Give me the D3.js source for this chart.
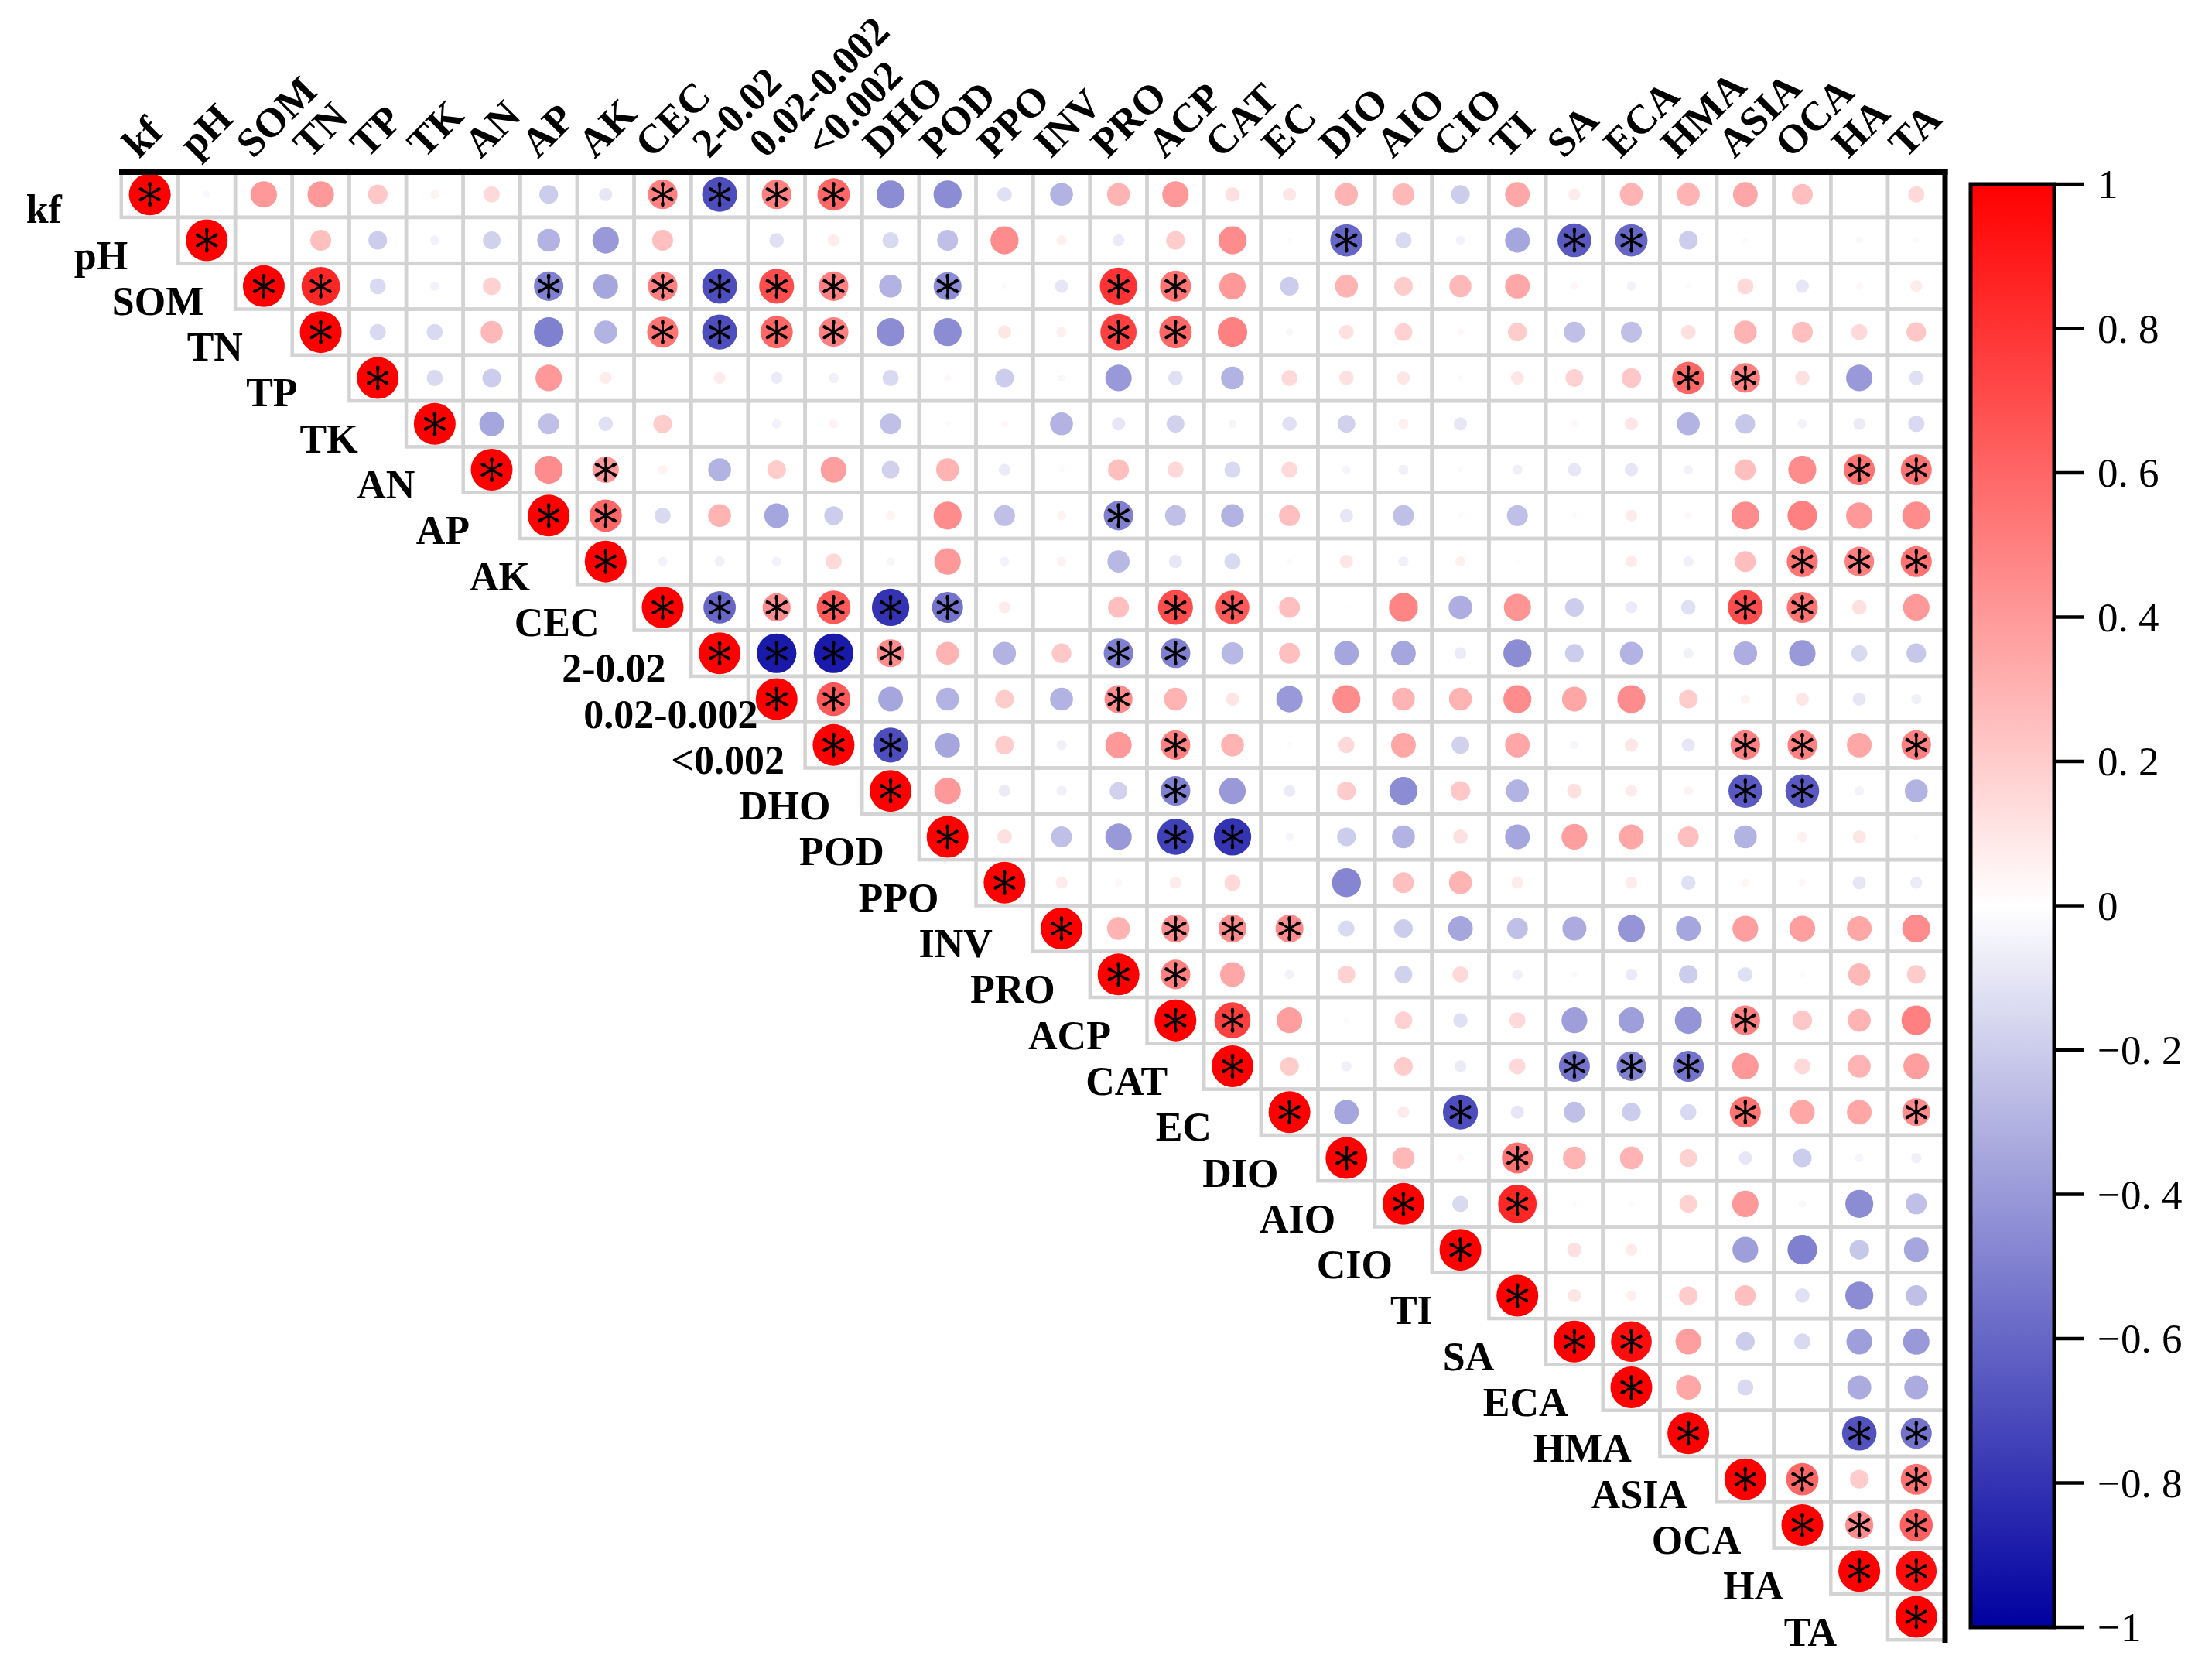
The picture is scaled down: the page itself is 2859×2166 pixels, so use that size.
<!DOCTYPE html>
<meta charset="utf-8">
<script src="https://d3js.org/d3.v7.min.js"></script>
<style>
  body { margin: 0; background: #fff; }
</style>
<div id="chart"></div>
<script>

// variable names (rows and columns)
const vars = ["kf","pH","SOM","TN","TP","TK","AN","AP","AK","CEC","2-0.02","0.02-0.002","<0.002",
  "DHO","POD","PPO","INV","PRO","ACP","CAT","EC","DIO","AIO","CIO","TI","SA","ECA","HMA",
  "ASIA","OCA","HA","TA"];

// upper triangle, each row starts at the diagonal
const upper = [
  [1,-0.03,0.4,0.4,0.22,0.05,0.15,-0.2,-0.1,0.5,-0.7,0.5,0.6,-0.45,-0.45,-0.12,-0.3,0.3,0.4,0.12,0.1,0.3,0.28,-0.2,0.35,0.08,0.3,0.3,0.35,0.25,0,0.15],
  [1,0,0.25,-0.2,-0.05,-0.18,-0.3,-0.4,0.25,0,-0.12,0.08,-0.15,-0.25,0.45,0.06,-0.08,0.2,0.45,0.02,-0.6,-0.15,-0.05,-0.35,-0.65,-0.6,-0.2,0.02,0,0.03,0.02],
  [1,0.85,-0.15,-0.05,0.18,-0.5,-0.35,0.5,-0.7,0.7,0.5,-0.3,-0.45,0.02,-0.1,0.8,0.55,0.4,-0.2,0.3,0.2,0.28,0.35,0.03,-0.05,0.02,0.15,-0.1,0.03,0.08],
  [1,-0.15,-0.15,0.28,-0.5,-0.3,0.55,-0.7,0.6,0.5,-0.45,-0.45,0.1,0.06,0.75,0.6,0.5,-0.03,0.12,0.18,0.03,0.2,-0.25,-0.25,0.12,0.3,0.25,0.15,0.22],
  [1,-0.15,-0.2,0.4,0.08,0,0.08,-0.08,-0.06,-0.15,0.03,-0.2,0.03,-0.4,-0.12,-0.3,0.15,0.12,0.1,0.02,0.1,0.18,0.22,0.6,0.5,0.12,-0.4,-0.12],
  [1,-0.35,-0.25,-0.12,0.2,0.01,-0.05,0.05,-0.25,0.02,0.03,-0.3,-0.1,-0.18,-0.04,-0.12,-0.18,0.06,-0.1,0,0.03,0.1,-0.3,-0.22,-0.05,-0.08,-0.15],
  [1,0.45,0.4,0.05,-0.3,0.2,0.38,-0.18,0.3,-0.08,0.02,0.25,0.15,-0.15,0.15,-0.04,-0.06,0.02,-0.06,-0.1,-0.1,-0.05,0.25,0.45,0.55,0.55],
  [1,0.6,-0.15,0.3,-0.35,-0.2,0.05,0.45,-0.25,0.05,-0.5,-0.25,-0.3,0.25,-0.1,-0.25,0.02,-0.25,0.02,0.08,0.03,0.45,0.5,0.4,0.45],
  [1,-0.05,-0.06,-0.05,0.15,-0.04,0.4,-0.05,0.05,-0.28,-0.1,-0.15,0.02,0.1,-0.06,0.06,0.01,0,0.08,-0.06,0.25,0.55,0.5,0.55],
  [1,-0.6,0.45,0.65,-0.8,-0.55,0.08,0,0.25,0.7,0.65,0.25,0.01,0.48,-0.32,0.42,-0.2,-0.08,-0.12,0.7,0.55,0.12,0.4],
  [1,-0.9,-0.9,0.45,0.3,-0.3,0.22,-0.5,-0.5,-0.28,0.25,-0.35,-0.35,-0.08,-0.45,-0.2,-0.3,-0.06,-0.32,-0.4,-0.15,-0.22],
  [1,0.65,-0.35,-0.3,0.2,-0.3,0.45,0.3,0.1,-0.4,0.45,0.3,0.3,0.45,0.35,0.45,0.2,0.05,0.1,-0.1,-0.06],
  [1,-0.7,-0.35,0.2,-0.06,0.4,0.5,0.3,0.02,0.15,0.35,-0.18,0.35,-0.04,0.1,-0.1,0.5,0.5,0.35,0.5],
  [1,0.4,-0.08,-0.06,-0.18,-0.5,-0.4,-0.08,0.2,-0.45,0.22,-0.3,0.12,0.08,0.05,-0.65,-0.65,-0.05,-0.3],
  [1,0.12,-0.25,-0.4,-0.75,-0.8,-0.04,-0.2,-0.3,0.12,-0.35,0.38,0.35,0.25,-0.3,0.06,0.1,0.02],
  [1,0.08,0.03,0.08,0.15,0,-0.48,0.25,0.3,0.08,0,0.08,-0.12,0.04,0.03,-0.1,-0.08],
  [1,0.3,0.45,0.45,0.45,-0.15,-0.2,-0.35,-0.25,-0.33,-0.42,-0.35,0.38,0.38,0.35,0.45],
  [1,0.5,0.35,-0.05,0.18,-0.18,0.15,-0.06,-0.02,-0.08,-0.2,-0.12,0.02,0.28,0.2],
  [1,0.75,0.38,0.02,0.18,-0.12,0.15,-0.38,-0.38,-0.42,0.5,0.22,0.3,0.5],
  [1,0.2,-0.06,0.2,-0.08,0.15,-0.55,-0.5,-0.55,0.4,0.15,0.3,0.38],
  [1,-0.35,0.08,-0.7,-0.1,-0.25,-0.2,-0.15,0.55,0.35,0.35,0.45],
  [1,0.28,0.03,0.55,0.3,0.3,0.18,-0.1,-0.2,-0.04,-0.06],
  [1,-0.15,0.85,0.02,0.02,0.18,0.4,-0.03,-0.45,-0.25],
  [1,0,0.12,0.08,0,-0.38,-0.5,-0.22,-0.35],
  [1,0.1,0.06,0.2,0.25,-0.12,-0.45,-0.25],
  [1,0.95,0.38,-0.2,-0.15,-0.38,-0.4],
  [1,0.35,-0.15,0,-0.33,-0.33],
  [1,0,0,-0.68,-0.55],
  [1,0.6,0.2,0.55],
  [1,0.45,0.62],
  [1,0.95],
  [1]
];

// significant pairs (marked with *), listed per row
const stars = [
  ["kf","CEC","2-0.02","0.02-0.002","<0.002"],
  ["pH","DIO","SA","ECA"],
  ["SOM","TN","AP","CEC","2-0.02","0.02-0.002","<0.002","POD","PRO","ACP"],
  ["TN","CEC","2-0.02","0.02-0.002","<0.002","PRO","ACP"],
  ["TP","HMA","ASIA"],
  ["TK"],
  ["AN","AK","HA","TA"],
  ["AP","AK","PRO"],
  ["AK","OCA","HA","TA"],
  ["CEC","2-0.02","0.02-0.002","<0.002","DHO","POD","ACP","CAT","ASIA","OCA"],
  ["2-0.02","0.02-0.002","<0.002","DHO","PRO","ACP"],
  ["0.02-0.002","<0.002","PRO"],
  ["<0.002","DHO","ACP","ASIA","OCA","TA"],
  ["DHO","ACP","ASIA","OCA"],
  ["POD","ACP","CAT"],
  ["PPO"],
  ["INV","ACP","CAT","EC"],
  ["PRO","ACP"],
  ["ACP","CAT","ASIA"],
  ["CAT","SA","ECA","HMA"],
  ["EC","CIO","ASIA","TA"],
  ["DIO","TI"],
  ["AIO","TI"],
  ["CIO"],
  ["TI"],
  ["SA","ECA"],
  ["ECA"],
  ["HMA","HA","TA"],
  ["ASIA","OCA","TA"],
  ["OCA","HA","TA"],
  ["HA","TA"],
  ["TA"]
];

const legendTicks = [1, 0.8, 0.6, 0.4, 0.2, 0, -0.2, -0.4, -0.6, -0.8, -1];

const W = 2859, H = 2166;
const svg = d3.select("#chart").append("svg")
  .attr("width", W).attr("height", H);

// grid scales
const x = d3.scaleBand().domain(vars).range([156.8, 2513.6]);
const y = d3.scaleBand().domain(vars).range([221.6, 2119.2]);
const color = d3.scaleLinear().domain([-1, 0, 1]).range(["#0000a0", "#ffffff", "#ff0000"]);
const radius = d3.scaleSqrt().domain([0, 1]).range([0, 27]);

// flatten to cells
const cells = [];
upper.forEach(function(row, i) {
  row.forEach(function(v, k) {
    const j = i + k;
    cells.push({row: vars[i], col: vars[j], value: v,
      star: stars[i].indexOf(vars[j]) >= 0});
  });
});

// cell frames
svg.append("g").selectAll("rect")
  .data(cells).enter().append("rect")
    .attr("x", d => x(d.col))
    .attr("y", d => y(d.row))
    .attr("width", x.bandwidth())
    .attr("height", y.bandwidth())
    .attr("fill", "none")
    .attr("stroke", "#d3d3d3")
    .attr("stroke-width", 4.5);

// circles
svg.append("g").selectAll("circle")
  .data(cells).enter().append("circle")
    .attr("cx", d => x(d.col) + x.bandwidth() / 2)
    .attr("cy", d => y(d.row) + y.bandwidth() / 2)
    .attr("r", d => radius(Math.abs(d.value)))
    .attr("fill", d => color(d.value));

// asterisks for significant cells
function starPath(L) {
  let p = "";
  [90, 30, 150].forEach(function(a) {
    const r = a * Math.PI / 180;
    const dx = L * Math.cos(r), dy = L * Math.sin(r);
    p += "M" + (-dx) + "," + (-dy) + "L" + dx + "," + dy;
  });
  return p;
}
const starG = svg.append("g").selectAll("g")
  .data(cells.filter(d => d.star)).enter().append("g")
    .attr("transform", d => "translate(" + (x(d.col) + x.bandwidth() / 2) + "," +
      (y(d.row) + y.bandwidth() / 2) + ")");
starG.append("path")
  .attr("d", starPath(15.5))
  .attr("stroke", "#000")
  .attr("stroke-width", 3)
  .attr("fill", "none");
[90, 270, 30, 210, 150, 330].forEach(function(a) {
  const r = a * Math.PI / 180;
  starG.append("ellipse")
    .attr("cx", 12.5 * Math.cos(r))
    .attr("cy", 12.5 * Math.sin(r))
    .attr("rx", 3.4).attr("ry", 2.3)
    .attr("transform", "rotate(" + a + "," + (12.5 * Math.cos(r)) + "," + (12.5 * Math.sin(r)) + ")")
    .attr("fill", "#000");
});

// frame: top and right black lines
svg.append("line")
  .attr("x1", 154).attr("x2", 2517.5)
  .attr("y1", 222.5).attr("y2", 222.5)
  .attr("stroke", "#000").attr("stroke-width", 7);
svg.append("line")
  .attr("x1", 2514).attr("x2", 2514)
  .attr("y1", 219).attr("y2", 2123)
  .attr("stroke", "#000").attr("stroke-width", 7);

const labelFont = "'Liberation Serif', 'Times New Roman', serif";

// row labels (left of the diagonal)
svg.append("g").selectAll("text")
  .data(vars).enter().append("text")
    .attr("x", d => x(d) - 100)
    .attr("y", d => y(d) + y.bandwidth() / 2 + 37)
    .attr("text-anchor", "middle")
    .style("font-family", labelFont)
    .style("font-weight", "bold")
    .style("font-size", "52px")
    .text(d => d);

// column labels (rotated)
svg.append("g").selectAll("text")
  .data(vars).enter().append("text")
    .attr("transform", d => "translate(" + (x(d) + x.bandwidth() / 2 - 14) + ",206) rotate(-45)")
    .attr("text-anchor", "start")
    .style("font-family", labelFont)
    .style("font-weight", "bold")
    .style("font-size", "53px")
    .text(d => d);

// colour bar
const barTop = 238, barBottom = 2103, barLeft = 2547, barRight = 2655;
const cy = d3.scaleLinear().domain([-1, 1]).range([barBottom, barTop]);
const defs = svg.append("defs");
const grad = defs.append("linearGradient")
  .attr("id", "bar").attr("x1", 0).attr("y1", 1).attr("x2", 0).attr("y2", 0);
grad.selectAll("stop")
  .data([-1, 0, 1]).enter().append("stop")
    .attr("offset", d => (d + 1) / 2)
    .attr("stop-color", d => color(d));
svg.append("rect")
  .attr("x", barLeft).attr("y", barTop)
  .attr("width", barRight - barLeft).attr("height", barBottom - barTop)
  .attr("fill", "url(#bar)")
  .attr("stroke", "#000").attr("stroke-width", 5);

svg.append("g").selectAll("line")
  .data(legendTicks).enter().append("line")
    .attr("x1", barRight).attr("x2", barRight + 38)
    .attr("y1", d => cy(d)).attr("y2", d => cy(d))
    .attr("stroke", "#000").attr("stroke-width", 4.5);

svg.append("g").selectAll("text")
  .data(legendTicks).enter().append("text")
    .attr("x", 2711)
    .attr("y", d => cy(d) + 18)
    .style("font-family", labelFont)
    .style("font-size", "53px")
    .text(d => {
      if (d === 0) return "0";
      if (Math.abs(d) === 1) return d < 0 ? "\u22121" : "1";
      const s = Math.abs(d).toFixed(1).replace(".", ". ");
      return d < 0 ? "\u2212" + s : s;
    });

</script>
